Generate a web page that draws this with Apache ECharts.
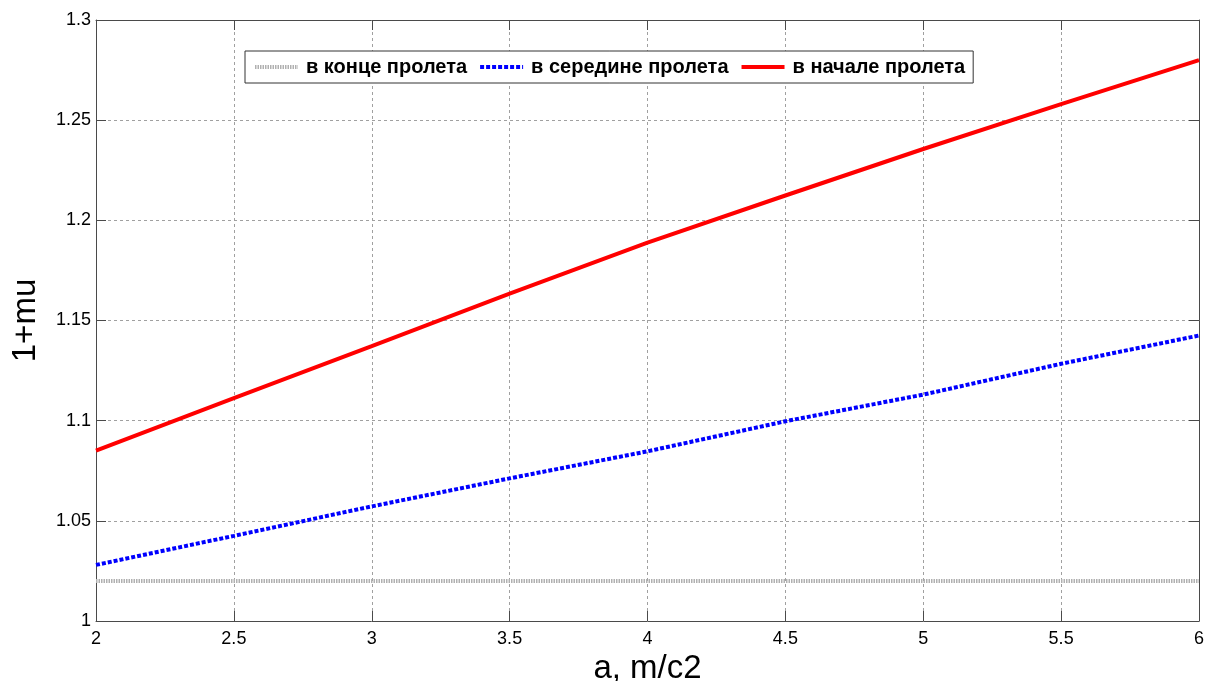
<!DOCTYPE html>
<html>
<head>
<meta charset="utf-8">
<script src="https://cdn.jsdelivr.net/npm/echarts@6/dist/echarts.min.js"></script>
<style>html,body{margin:0;padding:0;background:#fff;}#c{width:1206px;height:681px;}</style>
</head>
<body>
<div id="c"></div>
<script>
const xValues = [2, 2.5, 3, 3.5, 4, 4.5, 5, 5.5, 6];
const endSpan = [1.02, 1.02, 1.02, 1.02, 1.02, 1.02, 1.02, 1.02, 1.02];
const midSpan = [1.028, 1.0425, 1.0572, 1.0712, 1.0847, 1.0997, 1.113, 1.1284, 1.1425];
const startSpan = [1.085, 1.1113, 1.1372, 1.1634, 1.1889, 1.2124, 1.2356, 1.258, 1.280];
const seriesNames = ['в конце пролета', 'в середине пролета', 'в начале пролета'];
const xTitle = 'a, m/c2';
const yTitle = '1+mu';

const pairs = (ys) => xValues.map((x, i) => [x, ys[i]]);
const chart = echarts.init(document.getElementById('c'), null, {renderer: 'canvas'});
const font = 'Arial, "Liberation Sans", sans-serif';
const axisColor = '#4a4a4a';
const gridLine = {show: true, lineStyle: {color: '#a0a0a0', width: 1, type: [3, 3]}};
chart.setOption({
  animation: false,
  backgroundColor: '#fff',
  grid: {left: 96, right: 7, top: 20, bottom: 60, containLabel: false, outerBoundsMode: 'none'},
  legend: {
    left: 245, top: 51,
    data: seriesNames,
    itemWidth: 43, itemHeight: 14, itemGap: 11,
    borderColor: '#333', borderWidth: 1, backgroundColor: '#fff',
    padding: [6, 8, 6, 8],
    itemStyle: {opacity: 0},
    lineStyle: {width: 4},
    textStyle: {fontFamily: font, fontSize: 20, fontWeight: 'bold', color: '#000', padding: [0, 0, 0, 3]}
  },
  xAxis: [{
    type: 'value', min: 2, max: 6, interval: 0.5,
    name: xTitle, nameLocation: 'middle', nameGap: 28,
    nameTextStyle: {fontFamily: font, fontSize: 33, color: '#000'},
    axisLine: {show: true, lineStyle: {color: axisColor, width: 1}},
    axisTick: {show: true, inside: true, length: 10, lineStyle: {color: axisColor}},
    axisLabel: {fontFamily: font, fontSize: 18, color: '#000', margin: 9},
    splitLine: gridLine
  }, {
    type: 'value', min: 2, max: 6, interval: 0.5, position: 'top',
    axisLine: {show: true, lineStyle: {color: axisColor, width: 1}},
    axisTick: {show: true, inside: true, length: 10, lineStyle: {color: axisColor}},
    axisLabel: {show: false}, splitLine: {show: false}
  }],
  yAxis: [{
    type: 'value', min: 1, max: 1.3, interval: 0.05,
    name: yTitle, nameLocation: 'middle', nameGap: 54, nameRotate: 90,
    nameTextStyle: {fontFamily: font, fontSize: 33, color: '#000'},
    axisLine: {show: true, lineStyle: {color: axisColor, width: 1}},
    axisTick: {show: true, inside: true, length: 10, lineStyle: {color: axisColor}},
    axisLabel: {fontFamily: font, fontSize: 18, color: '#000', margin: 5,
      formatter: v => String(Math.round(v * 100) / 100)},
    splitLine: gridLine
  }, {
    type: 'value', min: 1, max: 1.3, interval: 0.05, position: 'right',
    axisLine: {show: true, lineStyle: {color: axisColor, width: 1}},
    axisTick: {show: true, inside: true, length: 10, lineStyle: {color: axisColor}},
    axisLabel: {show: false}, splitLine: {show: false}
  }],
  series: [{
    name: seriesNames[0], type: 'line', data: pairs(endSpan), showSymbol: false, symbol: 'none',
    lineStyle: {color: '#b0b0b0', width: 4, type: [1.5, 1]}, itemStyle: {color: '#b0b0b0'}
  }, {
    name: seriesNames[1], type: 'line', data: pairs(midSpan), showSymbol: false, symbol: 'none',
    lineStyle: {color: '#0000ff', width: 4, type: [4, 2]}, itemStyle: {color: '#0000ff'}
  }, {
    name: seriesNames[2], type: 'line', data: pairs(startSpan), showSymbol: false, symbol: 'none',
    lineStyle: {color: '#ff0000', width: 4, type: 'solid'}, itemStyle: {color: '#ff0000'}
  }]
});
</script>
</body>
</html>
